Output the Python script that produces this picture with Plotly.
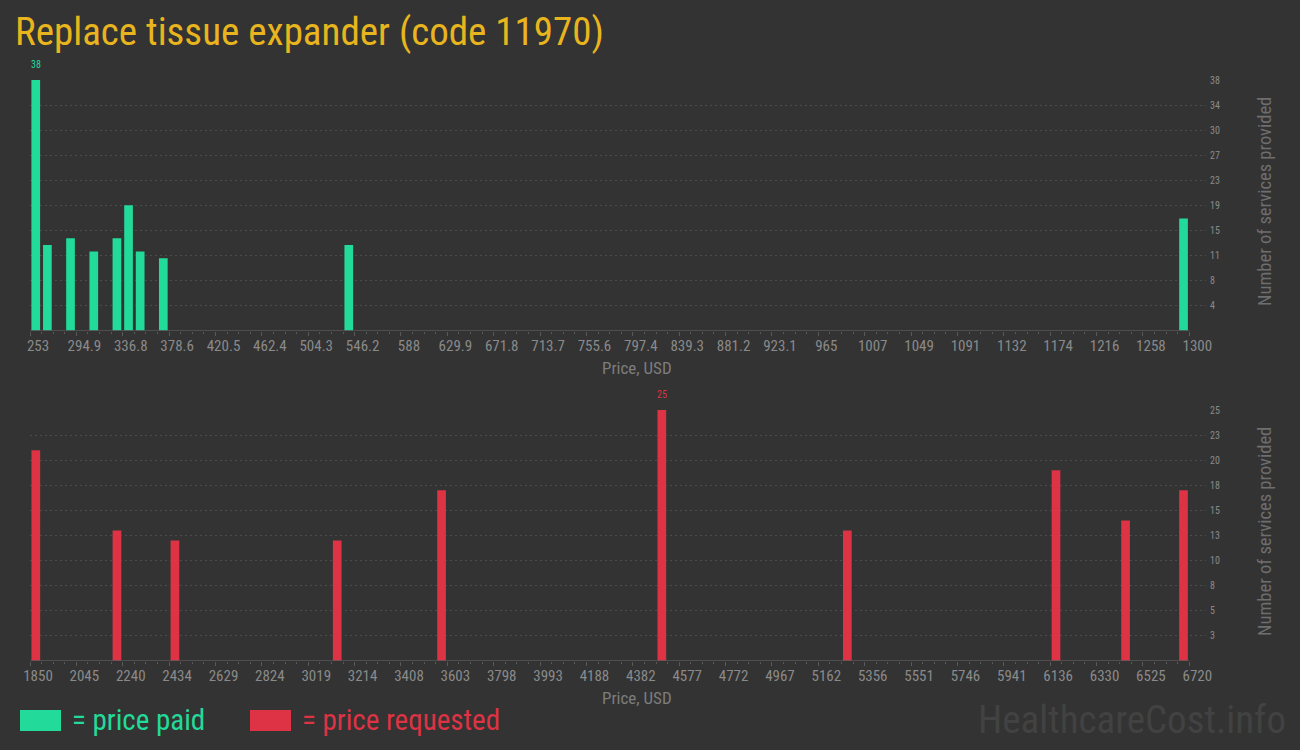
import numpy as np
import plotly.graph_objects as go

# ---------------- data ----------------
title_text = "Replace tissue expander (code 11970)"

paid_price = [258.2, 268.7, 289.6, 310.6, 331.5, 342.0, 352.5, 373.4, 540.9, 1294.8]
paid_count = [38, 13, 14, 12, 14, 19, 12, 11, 13, 17]
paid_min, paid_max = 253, 1300
paid_ticktext = ["253", "294.9", "336.8", "378.6", "420.5", "462.4", "504.3", "546.2", "588",
                 "629.9", "671.8", "713.7", "755.6", "797.4", "839.3", "881.2", "923.1", "965",
                 "1007", "1049", "1091", "1132", "1174", "1216", "1258", "1300"]
paid_yticktext = ["4", "8", "11", "15", "19", "23", "27", "30", "34", "38"]

req_price = [1874.4, 2215.3, 2458.8, 3140.6, 3578.9, 4504.2, 5283.4, 6160.0, 6452.2, 6695.7]
req_count = [21, 13, 12, 12, 17, 25, 13, 19, 14, 17]
req_min, req_max = 1850, 6720
req_ticktext = ["1850", "2045", "2240", "2434", "2629", "2824", "3019", "3214", "3408", "3603",
                "3798", "3993", "4188", "4382", "4577", "4772", "4967", "5162", "5356", "5551",
                "5746", "5941", "6136", "6330", "6525", "6720"]
req_yticktext = ["3", "5", "8", "10", "13", "15", "18", "20", "23", "25"]

n_bins = 100
legend_labels = ["= price paid", "= price requested"]
watermark = "HealthcareCost.info"

# ---------------- style ----------------
BG = "#333333"
GREEN = "#22DB9A"
RED = "#DD3344"
GOLD = "#E8B51E"
GRID = "#4c4c4c"
AXIS = "#595959"
TICKC = "#8a8a8a"
TITLEC = "#7d7d7d"
FONT = "Roboto Condensed, Liberation Sans Narrow, DejaVu Sans Condensed, Roboto, sans-serif"

W, H = 1300, 750
ML, MR, MT, MB = 30, 94, 80, 89
plot_w = W - ML - MR
plot_h = H - MT - MB
last_tick_px = 1189.3 - ML  # pixel of last tick from plot left


def px_x(q):
    return (q - ML) / plot_w


def px_y(p):
    return (H - MB - p) / plot_h


top_dom = [px_y(330.7), 1.0]
bot_dom = [0.0, px_y(410)]

fig = go.Figure()
ann = []


def add_panel(prices, counts, xmin, xmax, ticktext, yticktext, color, xa, ya, dom):
    span = xmax - xmin
    xr = [xmin, xmin + span * plot_w / last_tick_px]
    binw = span / n_bins
    ymax = max(counts)
    fig.add_trace(go.Bar(
        x=prices, y=counts, width=binw * 0.75, marker=dict(color=color, line=dict(width=0)),
        xaxis=xa, yaxis=ya, showlegend=False, hoverinfo="x+y"))
    # label of the tallest bar
    i_max = counts.index(ymax)
    ann.append(dict(text=str(ymax), x=prices[i_max], y=ymax, xref=xa, yref=ya,
                    xanchor="center", yanchor="bottom", yshift=8, showarrow=False,
                    font=dict(family=FONT, size=10, color=color)))
    xkey = "xaxis" if xa == "x" else "xaxis" + xa[1:]
    ykey = "yaxis" if ya == "y" else "yaxis" + ya[1:]
    yvals = list(np.linspace(0, ymax, 11)[1:])
    fig.update_layout(**{
        xkey: dict(domain=[0, 1], range=xr, anchor=ya, showgrid=False, zeroline=False,
                   showline=False, tickmode="array",
                   tickvals=list(np.linspace(xmin, xmax, len(ticktext))), ticktext=ticktext,
                   ticks="outside", ticklen=4, tickcolor=AXIS, tickwidth=1,
                   ticklabelshift=8, ticklabelstandoff=-3,
                   tickfont=dict(family=FONT, size=15, color=TICKC),
                   minor=dict(tickmode="array", tickvals=list(np.linspace(xmin, xmax, n_bins + 1)),
                              ticks="outside", ticklen=2, tickcolor=AXIS, showgrid=False),
                   fixedrange=True),
        ykey: dict(domain=dom, range=[0, ymax], anchor=xa, side="right", showgrid=True,
                   gridcolor=GRID, griddash="2px,3px", gridwidth=1, zeroline=False,
                   showline=False, tickmode="array", tickvals=yvals, ticktext=yticktext,
                   ticks="", ticklabelstandoff=3,
                   tickfont=dict(family=FONT, size=10, color=TICKC), fixedrange=True),
    })
    fig.add_shape(type="line", xref=xa, yref=ya, x0=xmin, x1=xmax, y0=0, y1=0,
                  line=dict(color=AXIS, width=1.5), layer="above")


add_panel(paid_price, paid_count, paid_min, paid_max, paid_ticktext, paid_yticktext, GREEN,
          "x", "y", top_dom)
add_panel(req_price, req_count, req_min, req_max, req_ticktext, req_yticktext, RED,
          "x2", "y2", bot_dom)

# axis titles
for yc in (368, 698):
    ann.append(dict(text="Price, USD", xref="paper", yref="paper", x=px_x(637), y=px_y(yc),
                    xanchor="center", yanchor="middle", showarrow=False,
                    font=dict(family=FONT, size=17, color=TITLEC)))
for yc in (202, 532):
    ann.append(dict(text="Number of services provided", xref="paper", yref="paper",
                    x=px_x(1265), y=px_y(yc), xanchor="center", yanchor="middle",
                    textangle=-90, showarrow=False,
                    font=dict(family=FONT, size=18.5, color="#6e6e6e")))
# legend texts
ann.append(dict(text=legend_labels[0], xref="paper", yref="paper", x=px_x(70), y=px_y(720),
                xanchor="left", yanchor="middle", showarrow=False,
                font=dict(family=FONT, size=29, color=GREEN)))
ann.append(dict(text=legend_labels[1], xref="paper", yref="paper", x=px_x(300), y=px_y(720),
                xanchor="left", yanchor="middle", showarrow=False,
                font=dict(family=FONT, size=29, color=RED)))
# watermark
ann.append(dict(text=watermark, xref="paper", yref="paper", x=px_x(1288), y=px_y(720),
                xanchor="right", yanchor="middle", showarrow=False,
                font=dict(family=FONT, size=39, color="#424242")))

shapes = [
    dict(type="rect", xref="paper", yref="paper", x0=px_x(20), x1=px_x(61), y0=px_y(731),
         y1=px_y(710), fillcolor=GREEN, line=dict(width=0)),
    dict(type="rect", xref="paper", yref="paper", x0=px_x(250), x1=px_x(291), y0=px_y(731),
         y1=px_y(710), fillcolor=RED, line=dict(width=0)),
]
for s in shapes:
    fig.add_shape(**s)

fig.update_layout(
    width=W, height=H, autosize=False,
    margin=dict(l=ML, r=MR, t=MT, b=MB),
    paper_bgcolor=BG, plot_bgcolor=BG,
    title=dict(text=title_text, x=15 / W, xref="container", xanchor="left",
               y=1 - 31 / H, yref="container", yanchor="middle",
               font=dict(family=FONT, size=39, color=GOLD)),
    annotations=ann,
    bargap=0.25,
    showlegend=False,
)

fig.write_html("out.html",
               config={"displayModeBar": False},
               post_script="document.body.style.margin='0px';"
                           "document.body.style.background='#333333';")
